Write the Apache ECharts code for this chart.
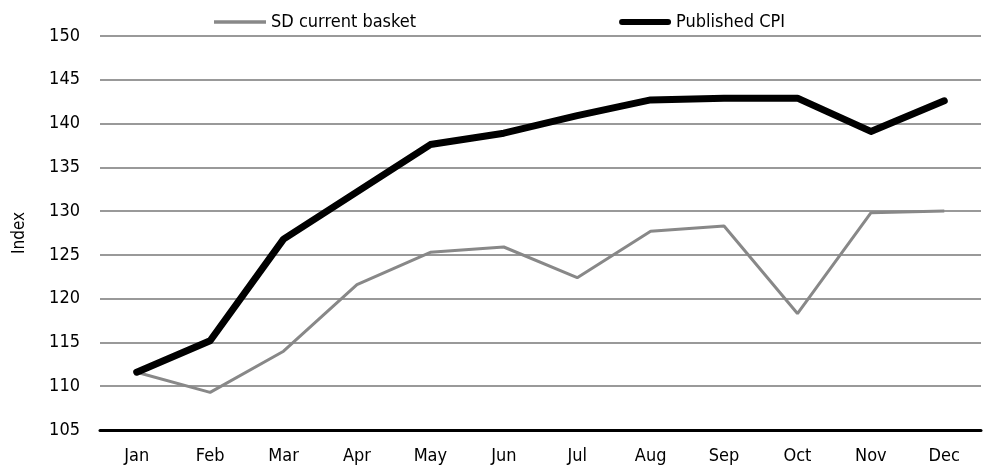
<!DOCTYPE html>
<html>
<head>
<meta charset="utf-8">
<script src="https://cdn.jsdelivr.net/npm/echarts@6/dist/echarts.min.js"></script>
<style>
  html, body { margin: 0; padding: 0; background: #fff; }
  #chart { width: 986px; height: 470px; }
</style>
</head>
<body>
<div id="chart"></div>
<script>
// month labels on the x axis
var months = ['Jan', 'Feb', 'Mar', 'Apr', 'May', 'Jun', 'Jul', 'Aug', 'Sep', 'Oct', 'Nov', 'Dec'];
// index values
var sdBasket = [111.6, 109.3, 114.0, 121.6, 125.3, 125.9, 122.4, 127.7, 128.3, 118.3, 129.8, 130.0];
var publishedCpi = [111.6, 115.2, 126.8, 132.2, 137.6, 138.9, 140.9, 142.7, 142.9, 142.9, 139.1, 142.6];
var seriesNames = ['SD current basket', 'Published CPI'];

var font = "'DejaVu Sans Condensed', 'Liberation Sans Narrow', sans-serif";

var myChart = echarts.init(document.getElementById('chart'));
myChart.setOption({
  animation: false,
  textStyle: { fontFamily: font },
  legend: {
    top: 8,
    left: 209,
    itemWidth: 52,
    itemHeight: 14,
    itemGap: 203,
    symbolKeepAspect: true,
    textStyle: { fontFamily: font, fontSize: 18, color: '#000' },
    data: [
      { name: seriesNames[0], icon: 'path://M0,0H52V3.5H0Z' },
      { name: seriesNames[1], icon: 'path://M3,0H49A3,3 0 0 1 49,6H3A3,3 0 0 1 3,0Z' }
    ]
  },
  grid: { left: 100, right: 5, top: 36, bottom: 40 },
  xAxis: {
    type: 'category',
    data: months,
    boundaryGap: true,
    axisLine: { lineStyle: { color: '#000', width: 3 } },
    axisTick: { show: false },
    axisLabel: { color: '#000', fontSize: 18, margin: 17, fontFamily: font }
  },
  yAxis: {
    type: 'value',
    min: 105,
    max: 150,
    interval: 5,
    name: 'Index',
    nameLocation: 'middle',
    nameGap: 72,
    nameTextStyle: { color: '#000', fontSize: 17, fontFamily: font },
    axisLine: { show: false },
    axisTick: { show: false },
    axisLabel: { color: '#000', fontSize: 18, margin: 20, fontFamily: font },
    splitLine: { lineStyle: { color: '#999', width: 2 } }
  },
  series: [
    {
      name: seriesNames[0],
      type: 'line',
      data: sdBasket,
      symbol: 'none',
      itemStyle: { color: '#888' },
      lineStyle: { color: '#888', width: 3 },
      z: 3
    },
    {
      name: seriesNames[1],
      type: 'line',
      data: publishedCpi,
      symbol: 'none',
      itemStyle: { color: '#000' },
      lineStyle: { color: '#000', width: 7, cap: 'round', join: 'round' },
      z: 4
    }
  ]
});
</script>
</body>
</html>
